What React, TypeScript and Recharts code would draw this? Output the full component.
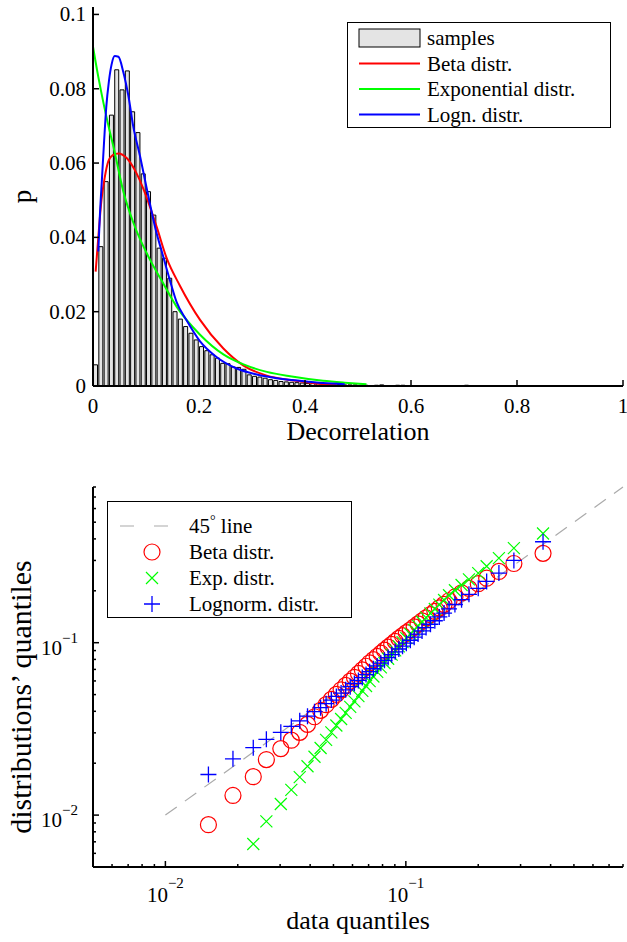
import React from 'react';
import {
  ComposedChart,
  ScatterChart,
  Bar,
  Line,
  Scatter,
  XAxis,
  YAxis,
  Legend,
  ReferenceLine,
} from 'recharts';

const FONT = '"Liberation Serif", "Times New Roman", serif';
const RED = '#ff0000';
const GREEN = '#00ff00';
const BLUE = '#0000ff';
const BAR_FILL = '#e4e4e4';
const AXIS = { stroke: '#000', strokeWidth: 2 };

// ---------- top panel: histogram of decorrelation (bins of 0.01) ----------
const BIN_WIDTH = 0.01;
const sampleFreq = [
  0.0057, 0.0375, 0.055, 0.0729, 0.0851, 0.0797, 0.0848, 0.0738, 0.0682, 0.0571,
  0.0523, 0.046, 0.0371, 0.0344, 0.029, 0.02, 0.018, 0.016, 0.0142, 0.0124,
  0.0106, 0.0095, 0.0084, 0.0075, 0.0061, 0.006, 0.0051, 0.005, 0.0045, 0.003,
  0.0026, 0.0024, 0.0021, 0.0017, 0.0015, 0.0012, 0.0011, 0.001, 0.0009, 0.0008,
  0.0007, 0.0007, 0.0006, 0.0005, 0.0005, 0.0004, 0.0004, 0.0003, 0.0003, 0.0003,
  0.0002, 0.0002, 0.0001, 0.0002, 0.0003, 0.0001, 0.0001, 0.0002, 0.0002, 0,
  0, 0, 0.0001, 0, 0, 0, 0, 0, 0, 0.0001,
  0.0002, 0.0001, 0, 0.0001, 0, 0, 0, 0, 0, 0,
  0, 0, 0, 0, 0, 0, 0.0001, 0, 0, 0,
  0, 0, 0, 0, 0, 0, 0, 0, 0, 0,
];

// fitted pdfs as [x, p]
const betaPdf: [number, number][] = [
  [0.005, 0.0308], [0.01, 0.04], [0.016, 0.0501], [0.022, 0.056], [0.029, 0.0605],
  [0.038, 0.0622], [0.048, 0.0626], [0.064, 0.0613], [0.082, 0.0573], [0.098, 0.052],
  [0.12, 0.0429], [0.139, 0.0344], [0.164, 0.027], [0.202, 0.0178], [0.246, 0.0101],
  [0.284, 0.0055], [0.328, 0.0028], [0.372, 0.0016], [0.421, 0.0007], [0.46, 0.0003],
];
const expPdf: [number, number][] = [
  [0, 0.0913], [0.01, 0.0832], [0.02, 0.076], [0.03, 0.0695], [0.04, 0.0635],
  [0.057, 0.0525], [0.076, 0.044], [0.1075, 0.034], [0.129, 0.0285], [0.158, 0.0213],
  [0.202, 0.0138], [0.246, 0.0085], [0.284, 0.0058], [0.328, 0.0038], [0.372, 0.0026],
  [0.434, 0.0014], [0.475, 0.0009], [0.516, 0.0005],
];
const lognPdf: [number, number][] = [
  [0.01, 0.0362], [0.013, 0.046], [0.017, 0.056], [0.021, 0.066], [0.025, 0.075],
  [0.03, 0.082], [0.035, 0.0865], [0.041, 0.0888], [0.048, 0.0886], [0.057, 0.0846],
  [0.067, 0.0779], [0.076, 0.0698], [0.089, 0.0617], [0.098, 0.0555], [0.1075, 0.049],
  [0.12, 0.0411], [0.129, 0.0366], [0.145, 0.0285], [0.158, 0.0225], [0.176, 0.0178],
  [0.202, 0.012], [0.233, 0.0078], [0.271, 0.0047], [0.309, 0.0031], [0.347, 0.0021],
  [0.39, 0.0014], [0.434, 0.0008], [0.475, 0.0005],
];

const decorTicks = [0, 0.2, 0.4, 0.6, 0.8, 1];
const pTicks = [0, 0.02, 0.04, 0.06, 0.08, 0.1];
const histLegendNames = ['samples', 'Beta distr.', 'Exponential distr.', 'Logn. distr.'];

// ---------- bottom panel: QQ plot ----------
const dataQuantiles = [
  0.0151, 0.0191, 0.0232, 0.0263, 0.0302, 0.0334, 0.0362, 0.039, 0.0417, 0.0442,
  0.0466, 0.049, 0.0514, 0.0538, 0.0562, 0.0587, 0.0611, 0.0635, 0.0659, 0.0683,
  0.0707, 0.0733, 0.076, 0.0787, 0.0815, 0.0844, 0.0873, 0.0903, 0.0935, 0.0969,
  0.1005, 0.1044, 0.1083, 0.1124, 0.1168, 0.1214, 0.1266, 0.132, 0.1378, 0.1442,
  0.1512, 0.16, 0.1705, 0.183, 0.2, 0.2168, 0.2438, 0.2814, 0.372,
];
const betaQuantiles = [
  0.0088, 0.013, 0.0167, 0.021, 0.0243, 0.0272, 0.0302, 0.0336, 0.0372, 0.0405,
  0.0437, 0.0469, 0.0501, 0.0533, 0.0565, 0.0598, 0.063, 0.0663, 0.0696, 0.073,
  0.0764, 0.0798, 0.0834, 0.0869, 0.0905, 0.0942, 0.0979, 0.1018, 0.1059, 0.1099,
  0.1143, 0.1188, 0.1236, 0.1285, 0.1339, 0.1394, 0.1456, 0.1521, 0.1591, 0.1668,
  0.1751, 0.1842, 0.1946, 0.2064, 0.22, 0.2368, 0.259, 0.288, 0.33,
];
const expQuantiles = [
  0.0022, 0.0045, 0.0068, 0.0092, 0.0116, 0.014, 0.0166, 0.0192, 0.0218, 0.0245,
  0.0273, 0.0302, 0.0331, 0.0361, 0.0392, 0.0424, 0.0457, 0.049, 0.0525, 0.0561,
  0.0599, 0.0637, 0.0677, 0.0719, 0.0762, 0.0807, 0.0853, 0.0902, 0.0953, 0.1007,
  0.1063, 0.1123, 0.1186, 0.1252, 0.1323, 0.1399, 0.148, 0.1568, 0.1664, 0.1769,
  0.1884, 0.2014, 0.2161, 0.233, 0.253, 0.2776, 0.3092, 0.3537, 0.4299,
];
const lognQuantiles = [
  0.0172, 0.0212, 0.0246, 0.0275, 0.0302, 0.0327, 0.0352, 0.0375, 0.0398, 0.042,
  0.0443, 0.0465, 0.0488, 0.051, 0.0533, 0.0556, 0.058, 0.0604, 0.0628, 0.0653,
  0.0679, 0.0706, 0.0733, 0.0761, 0.079, 0.082, 0.0852, 0.0885, 0.0919, 0.0955,
  0.0993, 0.1033, 0.1076, 0.1122, 0.1171, 0.1223, 0.1279, 0.1341, 0.141, 0.1485,
  0.1569, 0.1665, 0.1776, 0.1907, 0.2066, 0.2266, 0.2535, 0.3, 0.385,
];

const qqTicks = [
  0.005, 0.006, 0.007, 0.008, 0.009, 0.01, 0.02, 0.03, 0.04, 0.05, 0.06, 0.07, 0.08, 0.09,
  0.1, 0.2, 0.3, 0.4, 0.5, 0.6, 0.7, 0.8,
];
const qqExponent: Record<string, string> = { '0.01': '−2', '0.1': '−1' };
const qqLegendNames = ['45° line', 'Beta distr.', 'Exp. distr.', 'Lognorm. distr.'];

// ---------- derived tables ----------
const histData = sampleFreq.map((p, i) => ({ x: (i + 0.5) * BIN_WIDTH, p }));
const toCurve = (pts: [number, number][]) => pts.map(([x, p]) => ({ x, p }));
const toQQ = (ys: number[]) => dataQuantiles.map((x, i) => ({ x, y: ys[i] }));

const txt = { fontFamily: FONT, fontSize: 21, fill: '#000' };
const titleTxt = { fontFamily: FONT, fontSize: 26, fill: '#000' };

// ---------- ticks (MATLAB style: pointing inward) ----------
const LinBottomTick = ({ x, y, payload }: any) => (
  <g>
    <line x1={x} x2={x} y1={y} y2={y - 6} stroke="#000" strokeWidth={1.5} />
    <text x={x} y={y + 27} textAnchor="middle" {...txt}>{String(payload.value)}</text>
  </g>
);
const LinTopTick = ({ x, y }: any) => (
  <line x1={x} x2={x} y1={y} y2={y + 6} stroke="#000" strokeWidth={1.5} />
);
const LinLeftTick = ({ x, y, payload }: any) => (
  <g>
    <line x1={x} x2={x + 6} y1={y} y2={y} stroke="#000" strokeWidth={1.5} />
    <text x={x - 7} y={y + 7} textAnchor="end" {...txt}>{String(payload.value)}</text>
  </g>
);
const LinRightTick = ({ x, y }: any) => (
  <line x1={x} x2={x - 6} y1={y} y2={y} stroke="#000" strokeWidth={1.5} />
);

const isMajor = (v: number) => qqExponent[String(v)] !== undefined;

const LogBottomTick = ({ x, y, payload }: any) => {
  const major = isMajor(payload.value);
  return (
    <g>
      <line x1={x} x2={x} y1={y} y2={y - (major ? 6 : 3)} stroke="#000" strokeWidth={1.5} />
      {major && (
        <text x={x} y={y + 35} textAnchor="middle" {...txt}>
          10<tspan dy={-14} fontSize={15}>{qqExponent[String(payload.value)]}</tspan>
        </text>
      )}
    </g>
  );
};
const LogTopTick = ({ x, y, payload }: any) => (
  <line x1={x} x2={x} y1={y} y2={y + (isMajor(payload.value) ? 6 : 3)} stroke="#000" strokeWidth={1.5} />
);
const LogLeftTick = ({ x, y, payload }: any) => {
  const major = isMajor(payload.value);
  return (
    <g>
      <line x1={x} x2={x + (major ? 6 : 3)} y1={y} y2={y} stroke="#000" strokeWidth={1.5} />
      {major && (
        <text x={x - 15} y={y + 12} textAnchor="end" {...txt}>
          10<tspan dy={-12} fontSize={15}>{qqExponent[String(payload.value)]}</tspan>
        </text>
      )}
    </g>
  );
};
const LogRightTick = ({ x, y, payload }: any) => (
  <line x1={x} x2={x - (isMajor(payload.value) ? 6 : 3)} y1={y} y2={y} stroke="#000" strokeWidth={1.5} />
);

// ---------- axis titles ----------
const xTitle = (text: string, dy: number) => ({ viewBox }: any) => (
  <text x={viewBox.x + viewBox.width / 2} y={viewBox.y + dy} textAnchor="middle" {...titleTxt}>
    {text}
  </text>
);
const yTitle = (text: string, bx: number, size: number, shift = 0) => ({ viewBox }: any) => {
  const cy = viewBox.y + viewBox.height / 2 + shift;
  return (
    <text
      x={bx}
      y={cy}
      transform={`rotate(-90, ${bx}, ${cy})`}
      textAnchor="middle"
      {...titleTxt}
      fontSize={size}
    >
      {text}
    </text>
  );
};

// ---------- markers ----------
const RingMark = ({ cx, cy }: any) => (
  <circle cx={cx} cy={cy} r={8} fill="none" stroke={RED} strokeWidth={1.2} />
);
const CrossMark = ({ cx, cy }: any) => (
  <path
    d={`M${cx - 6},${cy - 6}L${cx + 6},${cy + 6}M${cx - 6},${cy + 6}L${cx + 6},${cy - 6}`}
    stroke={GREEN}
    strokeWidth={1.2}
  />
);
const PlusMark = ({ cx, cy }: any) => (
  <path d={`M${cx - 8},${cy}H${cx + 8}M${cx},${cy - 8}V${cy + 8}`} stroke={BLUE} strokeWidth={1.3} />
);

// ---------- legends ----------
const HistLegend = () => (
  <svg width={264} height={106} style={{ display: 'block' }}>
    <rect x={0.5} y={0.5} width={263} height={105} fill="#fff" stroke="#000" strokeWidth={1} />
    <rect x={12} y={7} width={61} height={18} fill={BAR_FILL} stroke="#000" strokeWidth={1} />
    <text x={80} y={23} {...txt}>{histLegendNames[0]}</text>
    {[RED, GREEN, BLUE].map((c, i) => (
      <g key={c}>
        <line x1={12} x2={73} y1={41.5 + 25.5 * i} y2={41.5 + 25.5 * i} stroke={c} strokeWidth={2} />
        <text x={80} y={48.5 + 25.5 * i} {...txt}>{histLegendNames[i + 1]}</text>
      </g>
    ))}
  </svg>
);

const QQLegend = () => {
  const rows = [25, 51, 77, 103];
  const mx = 45;
  return (
    <svg width={245} height={117} style={{ display: 'block' }}>
      <rect x={0.5} y={0.5} width={244} height={116} fill="#fff" stroke="#000" strokeWidth={1} />
      <line x1={13} x2={61} y1={rows[0]} y2={rows[0]} stroke="#aaa" strokeWidth={1.2} strokeDasharray="14 20" />
      <text x={82} y={rows[0] + 7} {...txt}>
        45<tspan dy={-8} fontSize={14}>°</tspan>
        <tspan dy={8}> line</tspan>
      </text>
      <RingMark cx={mx} cy={rows[1]} />
      <text x={82} y={rows[1] + 7} {...txt}>{qqLegendNames[1]}</text>
      <CrossMark cx={mx} cy={rows[2]} />
      <text x={82} y={rows[2] + 7} {...txt}>{qqLegendNames[2]}</text>
      <PlusMark cx={mx} cy={rows[3]} />
      <text x={82} y={rows[3] + 7} {...txt}>{qqLegendNames[3]}</text>
    </svg>
  );
};

// ---------- charts ----------
function HistogramPanel() {
  return (
    <ComposedChart width={627} height={470} data={histData} margin={{ top: 7, right: 4, bottom: 0, left: 0 }}>
      <XAxis
        dataKey="x"
        type="number"
        domain={[0, 1]}
        ticks={decorTicks}
        interval={0}
        allowDataOverflow
        height={84}
        axisLine={AXIS}
        tickLine={false}
        tickSize={0}
        tickMargin={0}
        tick={LinBottomTick}
        label={{ content: xTitle('Decorrelation', 54) }}
      />
      <XAxis
        xAxisId="top"
        orientation="top"
        dataKey="x"
        type="number"
        domain={[0, 1]}
        ticks={decorTicks}
        interval={0}
        allowDataOverflow
        height={0}
        axisLine={AXIS}
        tickLine={false}
        tickSize={0}
        tickMargin={0}
        tick={LinTopTick}
      />
      <YAxis
        type="number"
        domain={[0, 0.102]}
        ticks={pTicks}
        interval={0}
        allowDataOverflow
        width={93}
        axisLine={AXIS}
        tickLine={false}
        tickSize={0}
        tickMargin={0}
        tick={LinLeftTick}
        label={{ content: yTitle('p', 31, 27) }}
      />
      <YAxis
        yAxisId="right"
        orientation="right"
        type="number"
        domain={[0, 0.102]}
        ticks={pTicks}
        interval={0}
        allowDataOverflow
        width={0}
        axisLine={AXIS}
        tickLine={false}
        tickSize={0}
        tickMargin={0}
        tick={LinRightTick}
      />
      <Bar dataKey="p" fill={BAR_FILL} stroke="#000" strokeWidth={1} barCategoryGap={0} isAnimationActive={false} />
      <Line xAxisId="top" data={toCurve(betaPdf)} dataKey="p" type="monotone" stroke={RED} strokeWidth={2} dot={false} isAnimationActive={false} />
      <Line xAxisId="top" data={toCurve(expPdf)} dataKey="p" type="monotone" stroke={GREEN} strokeWidth={2} dot={false} isAnimationActive={false} />
      <Line xAxisId="top" data={toCurve(lognPdf)} dataKey="p" type="monotone" stroke={BLUE} strokeWidth={2} dot={false} isAnimationActive={false} />
      <Legend
        layout="horizontal"
        verticalAlign="middle"
        align="center"
        content={() => <HistLegend />}
        wrapperStyle={{ left: 347, top: 22, width: 264, height: 106 }}
      />
    </ComposedChart>
  );
}

function QQPanel() {
  return (
    <ScatterChart width={627} height={472} margin={{ top: 17, right: 4, bottom: 0, left: 0 }}>
      <XAxis
        dataKey="x"
        type="number"
        scale="log"
        domain={[0.005, 0.8]}
        ticks={qqTicks}
        interval={0}
        allowDataOverflow
        height={75}
        axisLine={AXIS}
        tickLine={false}
        tickSize={0}
        tickMargin={0}
        tick={LogBottomTick}
        label={{ content: xTitle('data quantiles', 62) }}
      />
      <XAxis
        xAxisId="top"
        orientation="top"
        dataKey="x"
        type="number"
        scale="log"
        domain={[0.005, 0.8]}
        ticks={qqTicks}
        interval={0}
        allowDataOverflow
        height={0}
        axisLine={AXIS}
        tickLine={false}
        tickSize={0}
        tickMargin={0}
        tick={LogTopTick}
      />
      <YAxis
        dataKey="y"
        type="number"
        scale="log"
        domain={[0.005, 0.8]}
        ticks={qqTicks}
        interval={0}
        allowDataOverflow
        width={93}
        axisLine={AXIS}
        tickLine={false}
        tickSize={0}
        tickMargin={0}
        tick={LogLeftTick}
        label={{ content: yTitle('distributions’ quantiles', 31, 30, 20) }}
      />
      <YAxis
        yAxisId="right"
        orientation="right"
        dataKey="y"
        type="number"
        scale="log"
        domain={[0.005, 0.8]}
        ticks={qqTicks}
        interval={0}
        allowDataOverflow
        width={0}
        axisLine={AXIS}
        tickLine={false}
        tickSize={0}
        tickMargin={0}
        tick={LogRightTick}
      />
      <ReferenceLine
        segment={[{ x: 0.01, y: 0.01 }, { x: 0.8, y: 0.8 }]}
        stroke="#aaa"
        strokeWidth={1.2}
        strokeDasharray="14 10"
      />
      <Scatter data={toQQ(betaQuantiles)} shape={RingMark} isAnimationActive={false} />
      <Scatter data={toQQ(expQuantiles)} shape={CrossMark} isAnimationActive={false} />
      <Scatter data={toQQ(lognQuantiles)} shape={PlusMark} isAnimationActive={false} />
      <Legend
        layout="horizontal"
        verticalAlign="middle"
        align="center"
        content={() => <QQLegend />}
        wrapperStyle={{ left: 107, top: 31, width: 245, height: 117 }}
      />
    </ScatterChart>
  );
}

export default function App() {
  return (
    <div style={{ position: 'absolute', left: 0, top: 0, width: 627, height: 942, background: '#fff' }}>
      <div style={{ position: 'absolute', left: 0, top: 0 }}>
        <HistogramPanel />
      </div>
      <div style={{ position: 'absolute', left: 0, top: 470 }}>
        <QQPanel />
      </div>
    </div>
  );
}
